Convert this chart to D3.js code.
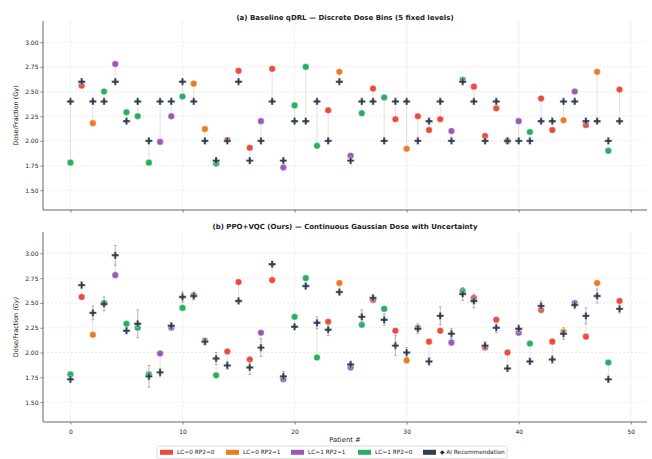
<!DOCTYPE html>
<html>
<head>
<meta charset="utf-8">
<script src="https://cdn.jsdelivr.net/npm/d3@7"></script>
<style>
  body { margin: 0; background: #fff; }
  text { font-family: "DejaVu Sans", sans-serif; fill: #222; }
</style>
</head>
<body>
<svg id="chart" width="652" height="459"></svg>
<script>
// patient outcome groups: 0 = LC=0 RP2=0, 1 = LC=0 RP2=1, 2 = LC=1 RP2=1, 3 = LC=1 RP2=0
var groupNames = ["LC=0 RP2=0", "LC=0 RP2=1", "LC=1 RP2=1", "LC=1 RP2=0"];
var groupColors = ["#e74c3c", "#e67e22", "#9b59b6", "#27ae60"];
var aiColor = "#2c3e50";

var patientGroup = [3, 0, 1, 3, 2, 3, 3, 3, 2, 2, 3, 1, 1, 3, 0, 0, 0, 2, 0, 2,
                    3, 3, 3, 0, 1, 2, 3, 0, 3, 0, 1, 0, 0, 0, 2, 3, 0, 0, 0, 0,
                    2, 3, 0, 0, 1, 2, 0, 1, 3, 0];

var actualDose = [1.78, 2.56, 2.18, 2.50, 2.78, 2.29, 2.25, 1.78, 1.99, 2.25,
                  2.45, 2.58, 2.12, 1.77, 2.01, 2.71, 1.93, 2.20, 2.73, 1.73,
                  2.36, 2.75, 1.95, 2.31, 2.70, 1.85, 2.28, 2.53, 2.44, 2.22,
                  1.92, 2.25, 2.11, 2.22, 2.10, 2.62, 2.55, 2.05, 2.33, 2.00,
                  2.20, 2.09, 2.43, 2.11, 2.21, 2.50, 2.16, 2.70, 1.90, 2.52];

var qdrlDose = [2.4, 2.6, 2.4, 2.4, 2.6, 2.2, 2.4, 2.0, 2.4, 2.4,
                2.6, 2.4, 2.0, 1.8, 2.0, 2.6, 1.8, 2.0, 2.4, 1.8,
                2.2, 2.2, 2.4, 2.0, 2.6, 1.8, 2.4, 2.4, 2.0, 2.4,
                2.4, 2.0, 2.2, 2.4, 2.0, 2.6, 2.4, 2.0, 2.4, 2.0,
                2.0, 2.0, 2.2, 2.2, 2.4, 2.4, 2.2, 2.2, 2.0, 2.2];

var ppoDose = [1.73, 2.68, 2.40, 2.49, 2.98, 2.22, 2.29, 1.76, 1.80, 2.27,
               2.56, 2.57, 2.11, 1.94, 1.87, 2.52, 1.85, 2.05, 2.89, 1.76,
               2.26, 2.67, 2.30, 2.23, 2.61, 1.88, 2.36, 2.55, 2.33, 2.07,
               2.00, 2.24, 1.91, 2.37, 2.19, 2.59, 2.52, 2.07, 2.25, 1.84,
               2.24, 1.91, 2.47, 1.93, 2.19, 2.48, 2.37, 2.57, 1.73, 2.44];

var ppoStd = [0.03, 0.03, 0.07, 0.07, 0.10, 0.03, 0.14, 0.11, 0.04, 0.03,
              0.05, 0.04, 0.03, 0.06, 0.04, 0.03, 0.07, 0.09, 0.03, 0.05,
              0.03, 0.03, 0.06, 0.06, 0.03, 0.03, 0.07, 0.03, 0.055, 0.10,
              0.05, 0.05, 0.04, 0.09, 0.05, 0.065, 0.07, 0.04, 0.05, 0.03,
              0.04, 0.03, 0.05, 0.04, 0.06, 0.04, 0.08, 0.07, 0.03, 0.04];

var yTicks = [1.50, 1.75, 2.00, 2.25, 2.50, 2.75, 3.00];
var xTicks = [0, 10, 20, 30, 40, 50];

var svg = d3.select("#chart");
svg.append("rect").attr("width", 652).attr("height", 459).attr("fill", "#fff");

var left = 43, right = 647;
var x = d3.scaleLinear().domain([-2.45, 51.45]).range([left, right]);

var panels = [
    {top: 21, bottom: 210, title: "(a) Baseline qDRL \u2014 Discrete Dose Bins (5 fixed levels)",
     titleY: 20, ai: qdrlDose, err: null, italicGy: false, xLabels: false},
    {top: 232, bottom: 422, title: "(b) PPO+VQC (Ours) \u2014 Continuous Gaussian Dose with Uncertainty",
     titleY: 229, ai: ppoDose, err: ppoStd, italicGy: true, xLabels: true}
];

var patients = d3.range(actualDose.length);
var marker = d3.symbol().type(d3.symbolCross).size(29);

panels.forEach(function (p) {
    var y = d3.scaleLinear().domain([1.30, 3.215]).range([p.bottom, p.top]);
    var g = svg.append("g");

    // grid
    g.selectAll(".hgrid").data(yTicks).enter().append("line")
        .attr("x1", left).attr("x2", right)
        .attr("y1", function (d) { return y(d); }).attr("y2", function (d) { return y(d); })
        .attr("stroke", "#dcdcdc").attr("stroke-width", 0.6).attr("stroke-dasharray", "2,2");
    g.selectAll(".vgrid").data(xTicks).enter().append("line")
        .attr("x1", function (d) { return x(d); }).attr("x2", function (d) { return x(d); })
        .attr("y1", p.top).attr("y2", p.bottom)
        .attr("stroke", "#e6e6e6").attr("stroke-width", 0.6);

    // axes
    var yAxis = g.append("g").attr("transform", "translate(" + left + ",0)")
        .call(d3.axisLeft(y).tickValues(yTicks).tickFormat(d3.format(".2f")).tickSize(2.5).tickPadding(2));
    var xAxis = g.append("g").attr("transform", "translate(0," + p.bottom + ")")
        .call(d3.axisBottom(x).tickValues(xTicks).tickSize(2.5).tickPadding(5)
            .tickFormat(p.xLabels ? d3.format("d") : ""));
    [yAxis, xAxis].forEach(function (a) {
        a.select(".domain").attr("stroke", "#666").attr("stroke-width", 1);
        a.selectAll(".tick line").attr("stroke", "#666").attr("stroke-width", 0.8);
        a.selectAll(".tick text").style("font-family", "DejaVu Sans").style("font-size", "6px").attr("fill", "#333");
    });
    xAxis.select(".domain").attr("d", "M" + left + ",0H" + right);
    yAxis.select(".domain").attr("d", "M0," + p.top + "V" + p.bottom);

    // connectors
    g.selectAll(".conn").data(patients).enter().append("line")
        .attr("x1", function (i) { return x(i); }).attr("x2", function (i) { return x(i); })
        .attr("y1", function (i) { return y(actualDose[i]); })
        .attr("y2", function (i) { return y(p.ai[i]); })
        .attr("stroke", "#d6d6d6").attr("stroke-width", 0.7);

    // actual dose dots
    g.selectAll(".dot").data(patients).enter().append("circle")
        .attr("cx", function (i) { return x(i); })
        .attr("cy", function (i) { return y(actualDose[i]); })
        .attr("r", 3.3)
        .attr("fill", function (i) { return groupColors[patientGroup[i]]; })
        .attr("stroke", "#fff").attr("stroke-width", 0.4);

    // uncertainty bars
    if (p.err) {
        var eb = g.selectAll(".err").data(patients).enter().append("g").attr("stroke", "#999").attr("stroke-width", 0.7);
        eb.append("line")
            .attr("x1", function (i) { return x(i); }).attr("x2", function (i) { return x(i); })
            .attr("y1", function (i) { return y(p.ai[i] - p.err[i]); })
            .attr("y2", function (i) { return y(p.ai[i] + p.err[i]); });
        [-1, 1].forEach(function (s) {
            eb.append("line")
                .attr("x1", function (i) { return x(i) - 1.5; }).attr("x2", function (i) { return x(i) + 1.5; })
                .attr("y1", function (i) { return y(p.ai[i] + s * p.err[i]); })
                .attr("y2", function (i) { return y(p.ai[i] + s * p.err[i]); });
        });
    }

    // AI recommendation markers
    g.selectAll(".ai").data(patients).enter().append("path")
        .attr("d", marker)
        .attr("transform", function (i) { return "translate(" + x(i) + "," + y(p.ai[i]) + ")"; })
        .attr("fill", aiColor).attr("stroke", "#fff").attr("stroke-width", 0.4);

    // title + y label
    svg.append("text").attr("x", (left + right) / 2).attr("y", p.titleY)
        .attr("text-anchor", "middle").style("font-size", "7px").style("font-weight", "bold")
        .text(p.title);
    var yl = svg.append("text")
        .attr("transform", "translate(18," + ((p.top + p.bottom) / 2) + ") rotate(-90)")
        .attr("text-anchor", "middle").style("font-size", "6.5px").attr("fill", "#333");
    yl.append("tspan").text("Dose/Fraction ");
    yl.append("tspan").style("font-style", p.italicGy ? "italic" : "normal").text("(Gy)");
});

svg.append("text").attr("x", (left + right) / 2).attr("y", 442)
    .attr("text-anchor", "middle").style("font-size", "6.8px").attr("fill", "#333")
    .text("Patient #");

// legend
var legendItems = groupNames.map(function (n, k) { return {label: n, color: groupColors[k]}; });
legendItems.push({label: "\u25C6 AI Recommendation", color: aiColor});
var legendX = [160, 226, 291, 358, 423];

var lg = svg.append("g");
lg.append("rect").attr("x", 157).attr("y", 446).attr("width", 350).attr("height", 12.5)
    .attr("rx", 1.5).attr("fill", "#fff").attr("stroke", "#d0d0d0").attr("stroke-width", 0.7);
var li = lg.selectAll(".li").data(legendItems).enter().append("g")
    .attr("transform", function (d, k) { return "translate(" + legendX[k] + ",452.3)"; });
li.append("rect").attr("x", 0).attr("y", -2.5).attr("width", 13).attr("height", 5)
    .attr("fill", function (d) { return d.color; });
li.append("text").attr("x", 17).attr("y", 2.1)
    .style("font-size", "5.8px").attr("fill", "#333")
    .text(function (d) { return d.label; });
</script>
</body>
</html>
